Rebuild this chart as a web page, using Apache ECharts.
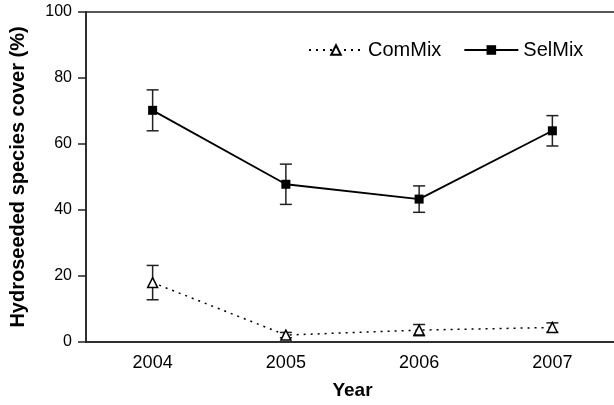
<!DOCTYPE html>
<html>
<head>
<meta charset="utf-8">
<script src="https://cdn.jsdelivr.net/npm/echarts@6/dist/echarts.min.js"></script>
<style>
html,body{margin:0;padding:0;background:#fff;}
#chart{width:614px;height:405px;}
</style>
</head>
<body>
<div id="chart"></div>
<script>
const years = ['2004', '2005', '2006', '2007'];
const comMix = [18.0, 2.1, 3.6, 4.4];
const comMixErr = [5.2, 0.8, 1.7, 1.4];
const selMix = [70.2, 47.8, 43.3, 64.0];
const selMixErr = [6.2, 6.1, 4.0, 4.6];
const yMin = 0, yMax = 100, yStep = 20;

const FONT = 'Liberation Sans, Arial, sans-serif';

function errData(vals, errs) {
  return vals.map((v, i) => [i, v - errs[i], v + errs[i]]);
}

function errSeries(vals, errs) {
  return {
    type: 'custom',
    silent: true,
    z: 1,
    data: errData(vals, errs),
    renderItem: function (params, api) {
      const x = api.value(0);
      const lo = api.coord([x, api.value(1)]);
      const hi = api.coord([x, api.value(2)]);
      const hw = 6;
      const style = { stroke: '#222', lineWidth: 1.5 };
      return {
        type: 'group',
        children: [
          { type: 'line', shape: { x1: lo[0], y1: lo[1], x2: hi[0], y2: hi[1] }, style: style },
          { type: 'line', shape: { x1: lo[0] - hw, y1: lo[1], x2: lo[0] + hw, y2: lo[1] }, style: style },
          { type: 'line', shape: { x1: hi[0] - hw, y1: hi[1], x2: hi[0] + hw, y2: hi[1] }, style: style }
        ]
      };
    }
  };
}

const chart = echarts.init(document.getElementById('chart'), null, { renderer: 'canvas' });
chart.setOption({
  animation: false,
  backgroundColor: '#fff',
  textStyle: { fontFamily: FONT, color: '#000' },
  grid: {
    left: 86, top: 12, width: 533, bottom: 63,
    outerBoundsMode: 'none',
    containLabel: false,
    show: true, borderColor: '#222', borderWidth: 1.5, backgroundColor: 'transparent'
  },
  legend: {
    left: 303, top: 35,
    itemWidth: 54, itemHeight: 12, itemGap: 22,
    textStyle: { fontFamily: FONT, fontSize: 20, color: '#000' },
    data: ['ComMix', 'SelMix']
  },
  xAxis: {
    type: 'category',
    data: years,
    boundaryGap: true,
    axisLine: { lineStyle: { color: '#222', width: 1.5 } },
    axisTick: { show: false },
    axisLabel: { fontFamily: FONT, fontSize: 18, color: '#000', margin: 12 },
    splitLine: { show: false },
    name: 'Year',
    nameLocation: 'middle',
    nameGap: 39,
    nameTextStyle: { fontFamily: FONT, fontSize: 19, fontWeight: 'bold', color: '#000' }
  },
  yAxis: {
    type: 'value',
    min: yMin, max: yMax, interval: yStep,
    axisLine: { show: true, lineStyle: { color: '#222', width: 1.5 } },
    axisTick: { show: true, length: 8, lineStyle: { color: '#222', width: 1.5 } },
    axisLabel: { fontFamily: FONT, fontSize: 16, color: '#000', margin: 14 },
    splitLine: { show: false },
    name: 'Hydroseeded species cover (%)',
    nameLocation: 'middle',
    nameGap: 58,
    nameTextStyle: { fontFamily: FONT, fontSize: 20, fontWeight: 'bold', color: '#000' }
  },
  series: [
    errSeries(comMix, comMixErr),
    errSeries(selMix, selMixErr),
    {
      name: 'ComMix',
      type: 'line',
      data: comMix,
      z: 3,
      symbol: 'triangle',
      symbolSize: 10,
      itemStyle: { color: '#fff', borderColor: '#000', borderWidth: 1.5 },
      lineStyle: { color: '#000', width: 1.5, type: [2, 5] }
    },
    {
      name: 'SelMix',
      type: 'line',
      data: selMix,
      z: 3,
      symbol: 'rect',
      symbolSize: 9,
      itemStyle: { color: '#000', borderColor: '#000', borderWidth: 0 },
      lineStyle: { color: '#000', width: 1.8, type: 'solid' }
    }
  ]
});
</script>
</body>
</html>
